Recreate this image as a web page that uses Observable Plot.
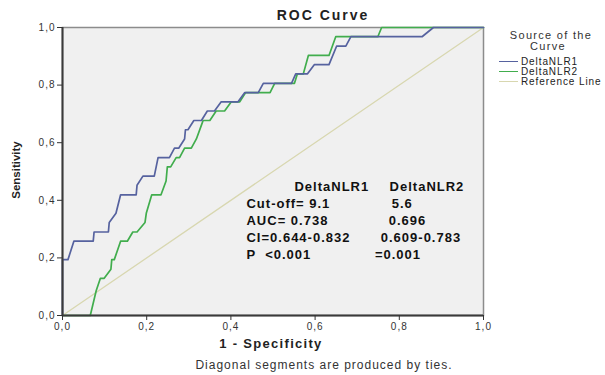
<!DOCTYPE html>
<html><head><meta charset="utf-8">
<script src="https://cdn.jsdelivr.net/npm/d3@7"></script>
<script src="https://cdn.jsdelivr.net/npm/@observablehq/plot@0.6"></script>
<style>
body{margin:0;background:#fff;}
#wrap{position:relative;width:605px;height:375px;font-family:"Liberation Sans",Arial,sans-serif;color:#222;overflow:hidden}
#wrap svg{position:absolute;left:0;top:0}
.t{position:absolute;white-space:nowrap;transform:translate(-50%,-50%);line-height:1}
.lg{position:absolute;white-space:nowrap;font-size:10px;letter-spacing:0.9px;line-height:1;transform:translateY(-50%);color:#222}
.sw{position:absolute;height:0;border-top:1.5px solid}
</style></head><body><div id="wrap"></div>
<script>
// DeltaNLR1 ROC curve (1 - specificity, sensitivity)
const fpr1 = [0, 0, 0.013, 0.027, 0.073, 0.075, 0.109, 0.111, 0.127, 0.138, 0.175, 0.177, 0.191, 0.218, 0.227, 0.254, 0.266, 0.276, 0.290, 0.292, 0.298, 0.312, 0.330, 0.344, 0.361, 0.377, 0.417, 0.433, 0.465, 0.477, 0.544, 0.554, 0.582, 0.598, 0.633, 0.651, 0.673, 0.685, 0.854, 0.881, 1];
const tpr1 = [0, 0.194, 0.194, 0.258, 0.258, 0.290, 0.290, 0.323, 0.355, 0.419, 0.419, 0.452, 0.484, 0.484, 0.548, 0.548, 0.581, 0.581, 0.613, 0.645, 0.645, 0.677, 0.677, 0.710, 0.710, 0.742, 0.742, 0.774, 0.774, 0.806, 0.806, 0.839, 0.839, 0.871, 0.871, 0.935, 0.935, 0.968, 0.968, 1, 1];
// DeltaNLR2 ROC curve
const fpr2 = [0, 0.066, 0.080, 0.090, 0.099, 0.115, 0.117, 0.123, 0.138, 0.154, 0.167, 0.177, 0.196, 0.199, 0.212, 0.234, 0.246, 0.249, 0.257, 0.270, 0.278, 0.290, 0.306, 0.318, 0.330, 0.334, 0.350, 0.365, 0.385, 0.401, 0.421, 0.435, 0.493, 0.504, 0.551, 0.558, 0.572, 0.584, 0.633, 0.649, 0.749, 0.758, 1];
const tpr2 = [0, 0, 0.086, 0.129, 0.129, 0.161, 0.194, 0.194, 0.258, 0.258, 0.290, 0.290, 0.323, 0.355, 0.419, 0.419, 0.467, 0.516, 0.516, 0.548, 0.548, 0.581, 0.581, 0.613, 0.661, 0.677, 0.677, 0.710, 0.710, 0.742, 0.742, 0.774, 0.774, 0.806, 0.806, 0.839, 0.839, 0.903, 0.903, 0.968, 0.968, 1, 1];
// Reference line
const refX = [0, 1];
const refY = [0, 1];

const ticks = [0, 0.2, 0.4, 0.6, 0.8, 1.0];
const seriesNames = ["DeltaNLR1", "DeltaNLR2", "Reference Line"];
const colors = ["#56629f", "#41ad4d", "#d8d7b0"];

// annotation statistics
const cutoff = ["9.1", "5.6"];
const auc = ["0.738", "0.696"];
const ci = ["0.644-0.832", "0.609-0.783"];
const pval = ["<0.001", "=0.001"];

const titleText = "ROC Curve";
const xLabel = "1 - Specificity";
const yLabel = "Sensitivity";
const caption = "Diagonal segments are produced by ties.";
const legendTitle = ["Source of the", "Curve"];

const d1 = fpr1.map((x, i) => ({x, y: tpr1[i]}));
const d2 = fpr2.map((x, i) => ({x, y: tpr2[i]}));
const dr = refX.map((x, i) => ({x, y: refY[i]}));

// annotation layout (data-space anchors)
const rowY = [0.446, 0.388, 0.329, 0.270, 0.211];
const ann = [
  {x: 0.551, y: rowY[0], t: seriesNames[0]},
  {x: 0.777, y: rowY[0], t: seriesNames[1]},
  {x: 0.437, y: rowY[1], t: "Cut-off= " + cutoff[0]},
  {x: 0.782, y: rowY[1], t: cutoff[1]},
  {x: 0.437, y: rowY[2], t: "AUC= " + auc[0]},
  {x: 0.775, y: rowY[2], t: auc[1]},
  {x: 0.437, y: rowY[3], t: "CI=" + ci[0]},
  {x: 0.756, y: rowY[3], t: ci[1]},
  {x: 0.437, y: rowY[4], t: "P  " + pval[0]},
  {x: 0.742, y: rowY[4], t: pval[1]}
];

const fmt = d => d.toFixed(1).replace(".", ",");

const chart = Plot.plot({
  width: 605, height: 375,
  marginLeft: 62, marginRight: 122, marginTop: 27, marginBottom: 60,
  x: {domain: [0, 1]},
  y: {domain: [0, 1]},
  style: {fontFamily: "'Liberation Sans', Arial, sans-serif", fontSize: "10px", color: "#333", background: "transparent", letterSpacing: "1px"},
  marks: [
    Plot.frame({fill: "#f0f0f0", stroke: "#8c8c8c", strokeWidth: 1.5}),
    Plot.line(dr, {x: "x", y: "y", stroke: colors[2], strokeWidth: 1.3}),
    Plot.line(d2, {x: "x", y: "y", stroke: colors[1], strokeWidth: 1.7}),
    Plot.line(d1, {x: "x", y: "y", stroke: colors[0], strokeWidth: 1.7}),
    Plot.ruleX([0], {stroke: "#3a3a3a", strokeWidth: 2}),
    Plot.ruleY([0], {stroke: "#3a3a3a", strokeWidth: 2}),
    Plot.axisX({ticks, tickFormat: fmt, tickSize: 5, tickPadding: 2, label: null, stroke: "#333", fill: "#333"}),
    Plot.axisY({ticks, tickFormat: fmt, tickSize: 5, tickPadding: 2, label: null, stroke: "#333", fill: "#333"}),
    Plot.text(ann, {x: "x", y: "y", text: "t", textAnchor: "start", lineAnchor: "middle", fontSize: 13, fontWeight: "bold", fill: "#111"})
  ]
});

const wrap = document.getElementById("wrap");
wrap.appendChild(chart);

function addText(txt, left, top, css) {
  const d = document.createElement("div");
  d.className = "t";
  d.textContent = txt;
  d.style.left = left + "px";
  d.style.top = top + "px";
  Object.assign(d.style, css);
  wrap.appendChild(d);
  return d;
}
addText(titleText, 323, 15, {fontWeight: "bold", fontSize: "14px", letterSpacing: "2px"});
addText(xLabel, 271, 343, {fontWeight: "bold", fontSize: "13px", letterSpacing: "1.3px"});
addText(yLabel, 17, 170, {fontWeight: "bold", fontSize: "11.5px", transform: "translate(-50%,-50%) rotate(-90deg)"});
addText(caption, 324, 365, {fontSize: "12px", letterSpacing: "1px", color: "#333"});
addText(legendTitle[0], 551, 35, {fontSize: "11px", letterSpacing: "1.3px", color: "#333"});
addText(legendTitle[1], 548, 46, {fontSize: "11px", letterSpacing: "1.3px", color: "#333"});

const legY = [61.5, 71.5, 81.5];
seriesNames.forEach((n, i) => {
  const s = document.createElement("div");
  s.className = "sw";
  s.style.left = "499px"; s.style.width = "19px";
  s.style.top = (legY[i] - 0.75) + "px";
  s.style.borderTopColor = colors[i];
  wrap.appendChild(s);
  const t = document.createElement("div");
  t.className = "lg";
  t.textContent = n;
  t.style.left = "521px";
  t.style.top = legY[i] + "px";
  wrap.appendChild(t);
});
</script>
</body></html>
